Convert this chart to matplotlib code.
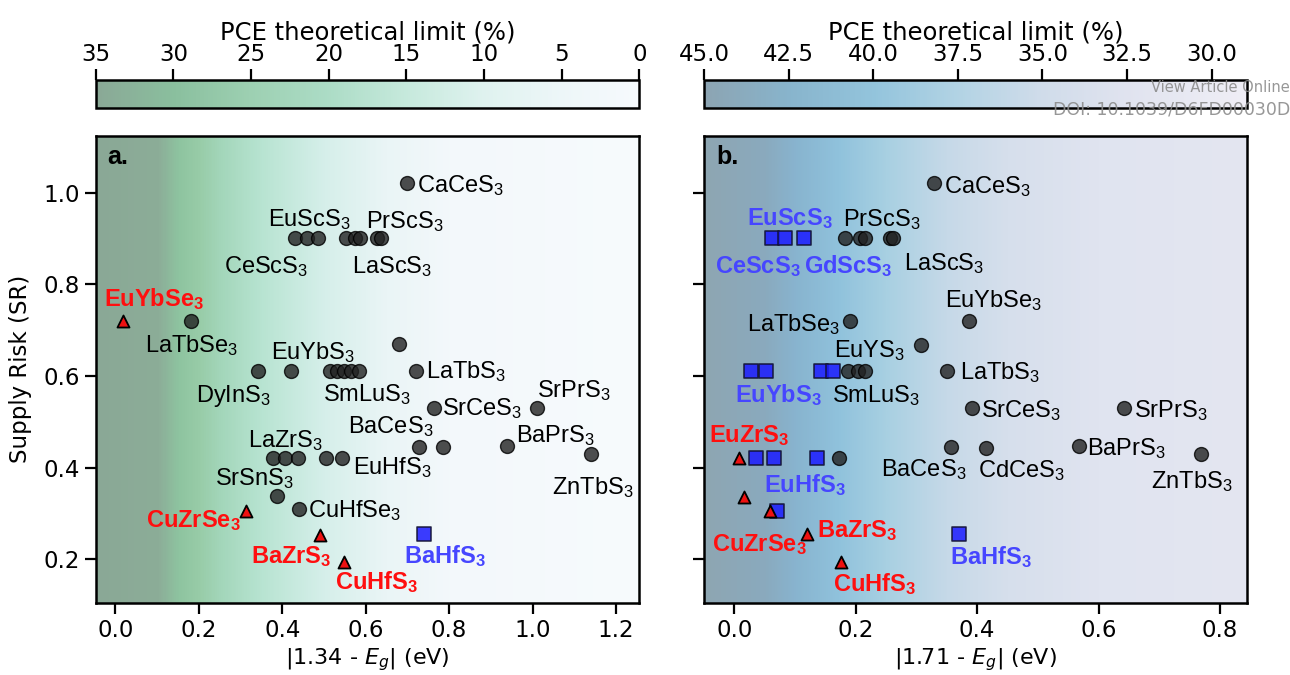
import numpy as np
import matplotlib
matplotlib.use("Agg")
import matplotlib.pyplot as plt
from matplotlib.colors import LinearSegmentedColormap, Normalize
from matplotlib.cm import ScalarMappable

plt.rcParams['mathtext.fontset'] = 'custom'
plt.rcParams['mathtext.rm'] = 'Liberation Sans'
plt.rcParams['mathtext.it'] = 'Liberation Sans:italic'
plt.rcParams['mathtext.bf'] = 'Liberation Sans:bold'

# ---- panel a data : |1.34 - Eg| vs supply risk ----
a_circ_x = [0.699,
            0.431, 0.459, 0.486, 0.553, 0.574, 0.587, 0.628, 0.637,
            0.182, 0.680,
            0.343, 0.422, 0.514, 0.531, 0.548, 0.565, 0.583, 0.720,
            0.763, 1.011, 0.729, 0.786, 0.939, 1.140,
            0.377, 0.407, 0.437, 0.506, 0.544,
            0.387, 0.441]
a_circ_y = [1.022,
            0.90, 0.90, 0.90, 0.90, 0.90, 0.90, 0.90, 0.90,
            0.72, 0.669,
            0.61, 0.61, 0.61, 0.61, 0.61, 0.61, 0.61, 0.61,
            0.531, 0.531, 0.445, 0.445, 0.447, 0.429,
            0.42, 0.42, 0.42, 0.42, 0.42,
            0.338, 0.31]
a_tri_x = [0.019, 0.313, 0.491, 0.547]
a_tri_y = [0.72, 0.306, 0.253, 0.194]
a_sq_x = [0.741]
a_sq_y = [0.255]

# ---- panel b data : |1.71 - Eg| vs supply risk ----
b_circ_x = [0.329,
            0.183, 0.207, 0.216, 0.256, 0.262,
            0.190, 0.387, 0.308,
            0.187, 0.204, 0.216, 0.351,
            0.391, 0.642, 0.357, 0.414, 0.568, 0.768,
            0.173]
b_circ_y = [1.022,
            0.90, 0.90, 0.90, 0.90, 0.90,
            0.72, 0.72, 0.668,
            0.61, 0.61, 0.61, 0.61,
            0.531, 0.531, 0.445, 0.443, 0.446, 0.429,
            0.42]
b_sq_x = [0.062, 0.083, 0.115, 0.028, 0.052, 0.143, 0.163, 0.035, 0.065, 0.136, 0.071, 0.370]
b_sq_y = [0.90, 0.90, 0.90, 0.61, 0.61, 0.61, 0.61, 0.42, 0.42, 0.42, 0.306, 0.255]
b_tri_x = [0.007, 0.016, 0.059, 0.120, 0.175]
b_tri_y = [0.42, 0.336, 0.306, 0.255, 0.194]

# label placements: (formula, x, baseline y, ha, kind)  kind: n=normal r=red b=blue
a_labels = [("CaCeS", 0.7225, 1.0015, 'left', 'n'),
            ("EuScS", 0.4646, 0.9265, 'center', 'n'),
            ("PrScS", 0.695, 0.923, 'center', 'n'),
            ("CeScS", 0.361, 0.825, 'center', 'n'),
            ("LaScS", 0.6626, 0.825, 'center', 'n'),
            ("EuYbSe", 0.0917, 0.752, 'center', 'r'),
            ("LaTbSe", 0.184, 0.651, 'center', 'n'),
            ("EuYbS", 0.473, 0.636, 'center', 'n'),
            ("LaTbS", 0.7457, 0.5956, 'left', 'n'),
            ("DyInS", 0.283, 0.544, 'center', 'n'),
            ("SmLuS", 0.604, 0.544, 'center', 'n'),
            ("SrCeS", 0.784, 0.515, 'left', 'n'),
            ("SrPrS", 1.0997, 0.554, 'center', 'n'),
            ("BaCeS", 0.66, 0.4747, 'center', 'n'),
            ("BaPrS", 0.96, 0.456, 'left', 'n'),
            ("ZnTbS", 1.144, 0.343, 'center', 'n'),
            ("LaZrS", 0.407, 0.445, 'center', 'n'),
            ("EuHfS", 0.57, 0.385, 'left', 'n'),
            ("SrSnS", 0.334, 0.361, 'center', 'n'),
            ("CuHfSe", 0.463, 0.2916, 'left', 'n'),
            ("CuZrSe", 0.188, 0.2696, 'center', 'r'),
            ("BaZrS", 0.4217, 0.191, 'center', 'r'),
            ("CuHfS", 0.626, 0.134, 'center', 'r'),
            ("BaHfS", 0.789, 0.191, 'center', 'b')]

b_labels = [("CaCeS", 0.346, 1.0, 'left', 'n'),
            ("EuScS", 0.0922, 0.930, 'center', 'b'),
            ("PrScS", 0.243, 0.926, 'center', 'n'),
            ("CeScS", 0.038, 0.825, 'center', 'b'),
            ("GdScS", 0.188, 0.825, 'center', 'b'),
            ("LaScS", 0.346, 0.831, 'center', 'n'),
            ("EuYbSe", 0.427, 0.751, 'center', 'n'),
            ("LaTbSe", 0.174, 0.6985, 'right', 'n'),
            ("EuYS", 0.2226, 0.64, 'center', 'n'),
            ("LaTbS", 0.372, 0.592, 'left', 'n'),
            ("EuYbS", 0.072, 0.542, 'center', 'b'),
            ("SmLuS", 0.234, 0.542, 'center', 'n'),
            ("SrCeS", 0.407, 0.511, 'left', 'n'),
            ("SrPrS", 0.659, 0.511, 'left', 'n'),
            ("EuZrS", 0.025, 0.456, 'center', 'r'),
            ("BaPrS", 0.581, 0.427, 'left', 'n'),
            ("BaCeS", 0.3125, 0.381, 'center', 'n'),
            ("CdCeS", 0.4736, 0.3795, 'center', 'n'),
            ("ZnTbS", 0.753, 0.356, 'center', 'n'),
            ("EuHfS", 0.117, 0.3465, 'center', 'b'),
            ("CuZrSe", 0.0406, 0.2183, 'center', 'r'),
            ("BaZrS", 0.203, 0.2476, 'center', 'r'),
            ("CuHfS", 0.231, 0.1304, 'center', 'r'),
            ("BaHfS", 0.423, 0.189, 'center', 'b')]

# background shading (x position -> colour)
a_bg = [(-0.05, '#8aa896'), (0.10, '#8cad98'), (0.15, '#8ec4a0'), (0.20, '#98cca8'),
        (0.25, '#a3d6ba'), (0.35, '#b8e4d2'), (0.50, '#d6efea'), (0.65, '#eaf5f6'),
        (0.80, '#f3f8fb'), (1.26, '#f7fbfd')]
b_bg = [(-0.05, '#8ea6b2'), (0.05, '#8aaabe'), (0.10, '#88b4cf'), (0.17, '#90c2dc'),
        (0.25, '#a8d0e2'), (0.35, '#c6d9e8'), (0.45, '#d6dfec'), (0.60, '#e0e4f0'),
        (0.85, '#e4e6f1')]
# colorbar colours (PCE value -> colour)
a_cb = [(0, '#f6fafd'), (5, '#edf6f8'), (10, '#dff2ef'), (15, '#c6e9dc'), (20, '#acdcc6'),
        (25, '#9dd0b2'), (30, '#8abf9e'), (35, '#8aa896')]
b_cb = [(28.95, '#efedf5'), (30, '#ebebf4'), (32.5, '#e0e3ef'), (35, '#d0dcea'),
        (37.5, '#b2d3e4'), (40, '#93c4dc'), (42.5, '#88b4cc'), (45, '#8ca4b2')]


def make_cmap(stops):
    lo, hi = stops[0][0], stops[-1][0]
    return LinearSegmentedColormap.from_list(
        'c', [((v - lo) / (hi - lo), c) for v, c in stops])


fig = plt.figure(figsize=(12.9, 6.75), dpi=100)
ax_a = fig.add_axes([0.0742, 0.1071, 0.4214, 0.6914])
ax_b = fig.add_axes([0.5457, 0.1071, 0.4212, 0.6914])
cax_a = fig.add_axes([0.0742, 0.8396, 0.4214, 0.0415])
cax_b = fig.add_axes([0.5457, 0.8396, 0.4212, 0.0415])

ylim = (0.105, 1.1235)
colors = {'n': 'black', 'r': '#ff0f0f', 'b': '#4646ff'}
TICK = 16.5


def panel(ax, xlim, bg, cx, cy, sx, sy, tx, ty, labels, letter, xlabel):
    grad = np.linspace(0, 1, 600).reshape(1, -1)
    ax.imshow(grad, cmap=make_cmap(bg), aspect='auto', zorder=0,
              extent=[bg[0][0], bg[-1][0], ylim[0], ylim[1]])
    ax.scatter(cx, cy, s=100, c='#222222', alpha=0.8, edgecolors='black',
               linewidths=1.0, zorder=3)
    if sx:
        ax.scatter(sx, sy, s=100, marker='s', c='#1a1aff', alpha=0.85,
                   edgecolors='#101030', linewidths=1.2, zorder=4)
    ax.scatter(tx, ty, s=75, marker='^', c='#ee1111', edgecolors='black',
               linewidths=1.3, zorder=5)
    for name, x, y, ha, kind in labels:
        if kind == 'n':
            ax.text(x, y, name + r'$_3$', fontsize=17, family='Liberation Sans',
                    ha=ha, va='baseline', color='black', zorder=6)
        else:
            ax.text(x, y, name + r'$_\mathbf{3}$', fontsize=17, family='Liberation Sans',
                    fontweight='bold', ha=ha, va='baseline', color=colors[kind], zorder=6)
    ax.text(0.022, 0.94, letter, transform=ax.transAxes, fontsize=18,
            family='Liberation Sans', fontweight='bold', va='baseline')
    ax.set_xlim(*xlim)
    ax.set_ylim(*ylim)
    ax.set_yticks([0.2, 0.4, 0.6, 0.8, 1.0])
    ax.tick_params(labelsize=TICK, length=8, width=1.6)
    for sp in ax.spines.values():
        sp.set_linewidth(1.8)
    ax.set_xlabel(xlabel, fontsize=16, math_fontfamily='dejavusans', labelpad=3)


panel(ax_a, (-0.047, 1.256), a_bg, a_circ_x, a_circ_y, a_sq_x, a_sq_y,
      a_tri_x, a_tri_y, a_labels, 'a.', r'|1.34 - $E_g$| (eV)')
ax_a.set_xticks([0.0, 0.2, 0.4, 0.6, 0.8, 1.0, 1.2])
ax_a.set_ylabel('Supply Risk (SR)', fontsize=16.5, labelpad=8)

panel(ax_b, (-0.05, 0.845), b_bg, b_circ_x, b_circ_y, b_sq_x, b_sq_y,
      b_tri_x, b_tri_y, b_labels, 'b.', r'|1.71 - $E_g$| (eV)')
ax_b.set_xticks([0.0, 0.2, 0.4, 0.6, 0.8])
ax_b.set_yticklabels([])


def cbar(cax, stops, ticks, fmt):
    norm = Normalize(stops[0][0], stops[-1][0])
    cb = fig.colorbar(ScalarMappable(norm=norm, cmap=make_cmap(stops)), cax=cax,
                      orientation='horizontal')
    cb.ax.invert_xaxis()
    cb.set_ticks(ticks)
    cb.ax.set_xticklabels([fmt % t for t in ticks])
    cb.ax.xaxis.set_ticks_position('top')
    cb.ax.xaxis.set_label_position('top')
    cb.set_label('PCE theoretical limit (%)', fontsize=17.5, labelpad=3)
    cb.ax.tick_params(labelsize=TICK, length=8, width=1.6, pad=2)
    cb.outline.set_linewidth(1.8)


cbar(cax_a, a_cb, [0, 5, 10, 15, 20, 25, 30, 35], '%d')
cbar(cax_b, b_cb, [30, 32.5, 35, 37.5, 40, 42.5, 45], '%.1f')

fig.text(1.0, 1 - 87 / 675, 'View Article Online', ha='right', va='center',
         fontsize=10.5, color='#8c8c8c', alpha=0.9)
fig.text(1.0, 1 - 110 / 675, 'DOI: 10.1039/D6FD00030D', ha='right', va='center',
         fontsize=12.5, color='#8c8c8c', alpha=0.9)

fig.savefig('out.png', dpi=100)
